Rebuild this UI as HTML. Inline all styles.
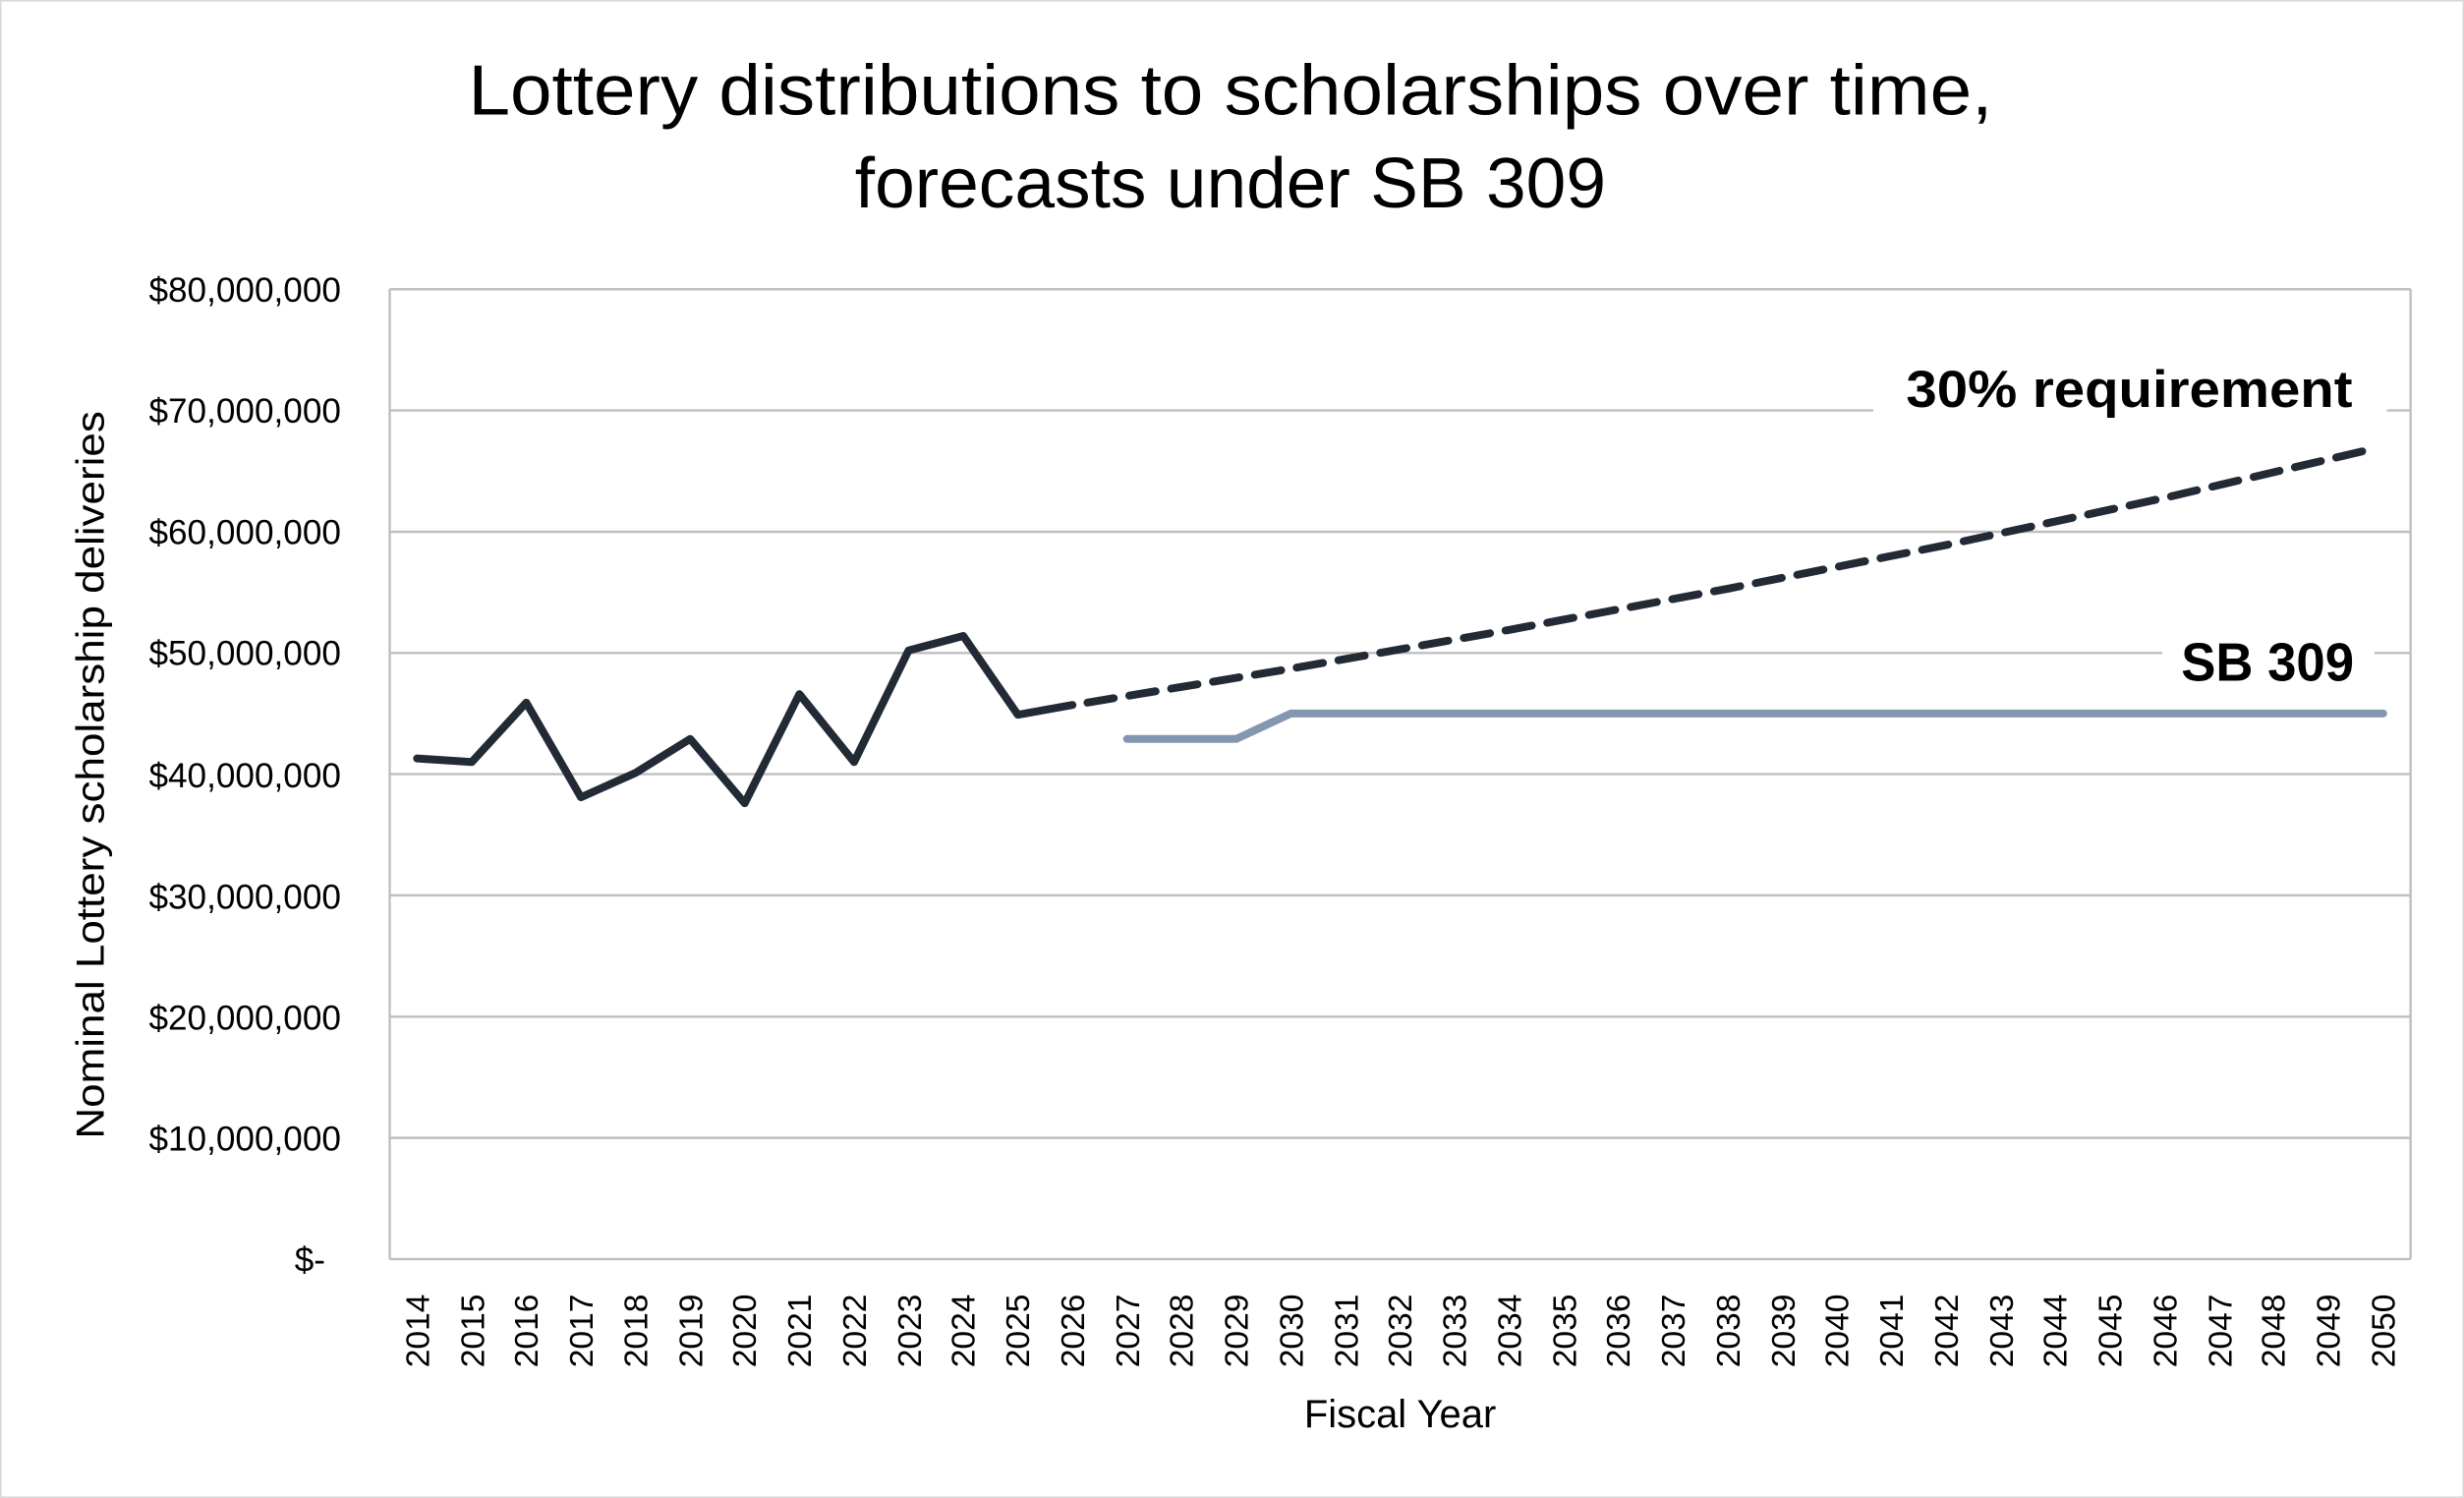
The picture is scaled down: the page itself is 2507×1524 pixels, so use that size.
<!DOCTYPE html>
<html><head><meta charset="utf-8"><style>html,body{margin:0;padding:0;background:#fff}svg{display:block}</style></head>
<body>
<svg width="2507" height="1524" viewBox="0 0 1568 953" preserveAspectRatio="none" xmlns="http://www.w3.org/2000/svg" font-family="'Liberation Sans', sans-serif">
<rect x="0.5" y="0.5" width="1567" height="952" fill="#fff" stroke="#d9d9d9"/>
<text x="783" y="73" font-size="45" text-anchor="middle" fill="#000" textLength="970" lengthAdjust="spacingAndGlyphs">Lottery distributions to scholarships over time,</text>
<text x="783" y="132" font-size="45" text-anchor="middle" fill="#000" textLength="478" lengthAdjust="spacingAndGlyphs">forecasts under SB 309</text>
<g stroke="#bfbfbf" stroke-width="1.5">
<line x1="248" x2="1534" y1="184" y2="184"/>
<line x1="248" x2="1534" y1="261.1" y2="261.1"/>
<line x1="248" x2="1534" y1="338.3" y2="338.3"/>
<line x1="248" x2="1534" y1="415.4" y2="415.4"/>
<line x1="248" x2="1534" y1="492.5" y2="492.5"/>
<line x1="248" x2="1534" y1="569.6" y2="569.6"/>
<line x1="248" x2="1534" y1="646.8" y2="646.8"/>
<line x1="248" x2="1534" y1="723.9" y2="723.9"/>
<line x1="248" x2="1534" y1="801" y2="801"/>
<line x1="248" x2="248" y1="184" y2="801"/>
<line x1="1534" x2="1534" y1="184" y2="801"/>
</g>
<g font-size="22" text-anchor="end" fill="#000">
<text x="217" y="192">$80,000,000</text>
<text x="217" y="269">$70,000,000</text>
<text x="217" y="346">$60,000,000</text>
<text x="217" y="423">$50,000,000</text>
<text x="217" y="501">$40,000,000</text>
<text x="217" y="578">$30,000,000</text>
<text x="217" y="655">$20,000,000</text>
<text x="217" y="732">$10,000,000</text>
<text x="207" y="809">$-</text>
</g>
<text x="891" y="908" font-size="25" text-anchor="middle">Fiscal Year</text>
<text transform="translate(66,493) rotate(-90)" font-size="25" text-anchor="middle" textLength="463" lengthAdjust="spacingAndGlyphs">Nominal Lottery scholarship deliveries</text>
<polyline fill="none" stroke="#222a35" stroke-width="5" stroke-linejoin="round" stroke-linecap="round" points="265.4,482.5 300.2,484.8 334.9,447 369.7,507.2 404.4,491.7 439.2,470.1 473.9,511 508.7,441.6 543.5,484.8 578.2,413.8 613,404.6 647.7,454.7 682.5,448.5"/>
<polyline fill="none" stroke="#222a35" stroke-width="5" stroke-linecap="round" stroke-dasharray="17 10" points="692,447 821.5,425.4 960.5,400.7 1099.6,374.5 1238.6,346.7 1377.6,316.7 1506,286.5"/>
<polyline fill="none" stroke="#8497b0" stroke-width="5" stroke-linecap="round" stroke-linejoin="round" points="717.2,470.1 786.7,470.1 821.5,453.9 1516.6,453.9"/>
<rect x="1192" y="226" width="327" height="42" fill="#fff"/>
<text x="1355" y="259" font-size="33" font-weight="bold" text-anchor="middle" textLength="284" lengthAdjust="spacingAndGlyphs">30% requirement</text>
<rect x="1376" y="398" width="135" height="42" fill="#fff"/>
<text x="1443" y="433" font-size="34" font-weight="bold" text-anchor="middle" textLength="110" lengthAdjust="spacingAndGlyphs">SB 309</text>
<g font-size="21" fill="#000">
<text transform="translate(273,870) rotate(-90)">2014</text>
<text transform="translate(308,870) rotate(-90)">2015</text>
<text transform="translate(342,870) rotate(-90)">2016</text>
<text transform="translate(377,870) rotate(-90)">2017</text>
<text transform="translate(412,870) rotate(-90)">2018</text>
<text transform="translate(447,870) rotate(-90)">2019</text>
<text transform="translate(481,870) rotate(-90)">2020</text>
<text transform="translate(516,870) rotate(-90)">2021</text>
<text transform="translate(551,870) rotate(-90)">2022</text>
<text transform="translate(586,870) rotate(-90)">2023</text>
<text transform="translate(620,870) rotate(-90)">2024</text>
<text transform="translate(655,870) rotate(-90)">2025</text>
<text transform="translate(690,870) rotate(-90)">2026</text>
<text transform="translate(725,870) rotate(-90)">2027</text>
<text transform="translate(759,870) rotate(-90)">2028</text>
<text transform="translate(794,870) rotate(-90)">2029</text>
<text transform="translate(829,870) rotate(-90)">2030</text>
<text transform="translate(864,870) rotate(-90)">2031</text>
<text transform="translate(898,870) rotate(-90)">2032</text>
<text transform="translate(933,870) rotate(-90)">2033</text>
<text transform="translate(968,870) rotate(-90)">2034</text>
<text transform="translate(1003,870) rotate(-90)">2035</text>
<text transform="translate(1037,870) rotate(-90)">2036</text>
<text transform="translate(1072,870) rotate(-90)">2037</text>
<text transform="translate(1107,870) rotate(-90)">2038</text>
<text transform="translate(1142,870) rotate(-90)">2039</text>
<text transform="translate(1176,870) rotate(-90)">2040</text>
<text transform="translate(1211,870) rotate(-90)">2041</text>
<text transform="translate(1246,870) rotate(-90)">2042</text>
<text transform="translate(1281,870) rotate(-90)">2043</text>
<text transform="translate(1315,870) rotate(-90)">2044</text>
<text transform="translate(1350,870) rotate(-90)">2045</text>
<text transform="translate(1385,870) rotate(-90)">2046</text>
<text transform="translate(1420,870) rotate(-90)">2047</text>
<text transform="translate(1454,870) rotate(-90)">2048</text>
<text transform="translate(1489,870) rotate(-90)">2049</text>
<text transform="translate(1524,870) rotate(-90)">2050</text>
</g>
</svg>
</body></html>
